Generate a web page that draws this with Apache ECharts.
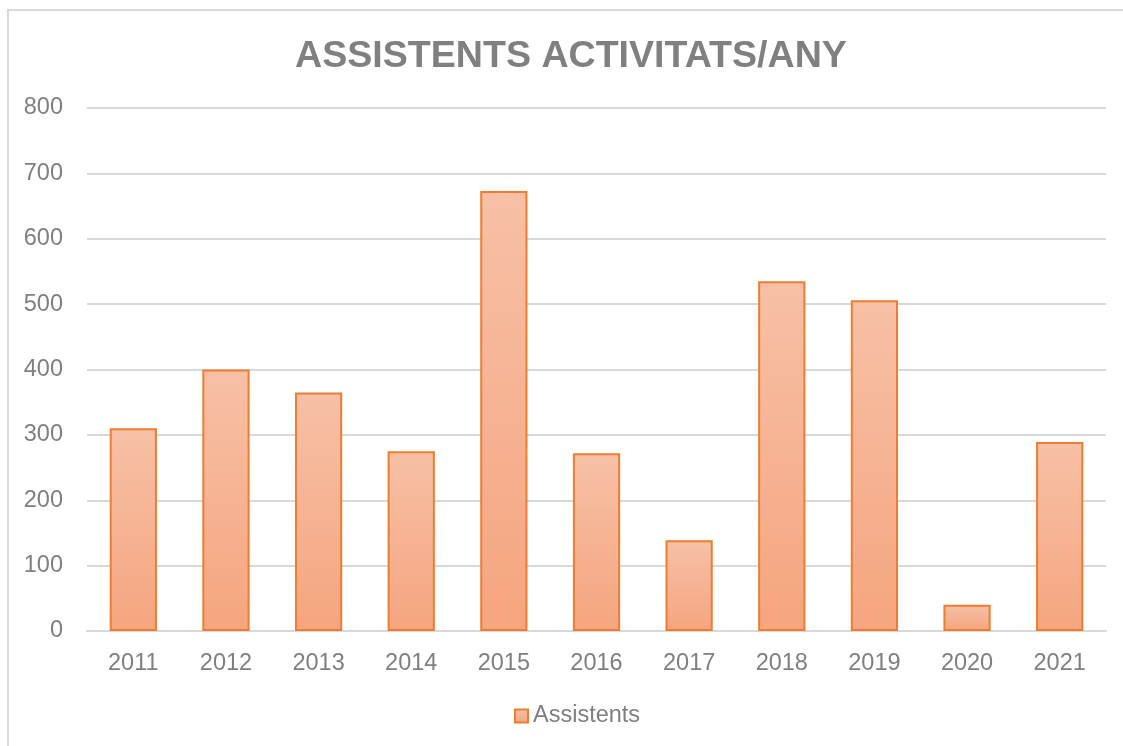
<!DOCTYPE html>
<html>
<head>
<meta charset="utf-8">
<script src="https://cdn.jsdelivr.net/npm/echarts@6/dist/echarts.min.js"></script>
<style>
  html, body { margin: 0; padding: 0; background: #fff; overflow: hidden; }
  #chart { position: absolute; left: 0; top: 0; width: 1123px; height: 746px; }
  /* marc gris del requadre del gràfic */
  .marc { position: absolute; left: 7px; top: 9px; width: 1200px; height: 800px;
          border-left: 2px solid #d9d9d9; border-top: 2px solid #d9d9d9; pointer-events: none; }
</style>
</head>
<body>
<div id="chart"></div>
<div class="marc"></div>
<script>
// dades llegides del gràfic
var anys = ['2011', '2012', '2013', '2014', '2015', '2016', '2017', '2018', '2019', '2020', '2021'];
var assistents = [310, 400, 365, 275, 673, 272, 139, 535, 506, 40, 289];
var titol = 'ASSISTENTS ACTIVITATS/ANY';
var nomSerie = 'Assistents';

var myChart = echarts.init(document.getElementById('chart'));

var degradat = new echarts.graphic.LinearGradient(0, 0, 0, 1, [
  { offset: 0, color: '#f7c0a6' },
  { offset: 1, color: '#f5a57f' }
]);

var lletra = 'Liberation Sans, Arial, sans-serif';

myChart.setOption({
  animation: false,
  title: {
    text: titol,
    left: 290,
    top: 33,
    textStyle: {
      fontFamily: lletra,
      fontSize: 37.6,
      fontWeight: 'bold',
      color: '#808080'
    }
  },
  legend: {
    bottom: 13,
    left: 509,
    itemWidth: 13,
    itemHeight: 13,
    itemGap: 6,
    icon: 'rect',
    textStyle: {
      fontFamily: lletra,
      fontSize: 23.5,
      color: '#7f7f7f'
    },
    data: [nomSerie]
  },
  grid: {
    left: 87,
    right: 17,
    top: 108,
    bottom: 115,
    containLabel: false
  },
  xAxis: {
    type: 'category',
    data: anys,
    axisTick: { show: false },
    axisLine: { lineStyle: { color: '#d9d9d9', width: 2 } },
    axisLabel: {
      margin: 21,
      fontFamily: lletra,
      fontSize: 23.5,
      color: '#7f7f7f'
    }
  },
  yAxis: {
    type: 'value',
    min: 0,
    max: 800,
    interval: 100,
    axisLine: { show: false },
    axisTick: { show: false },
    splitLine: { lineStyle: { color: '#d9d9d9', width: 2 } },
    axisLabel: {
      margin: 24,
      fontFamily: lletra,
      fontSize: 23.5,
      color: '#7f7f7f'
    }
  },
  series: [
    {
      name: nomSerie,
      type: 'bar',
      data: assistents,
      barWidth: '51%',
      itemStyle: {
        color: degradat,
        borderColor: '#ed7d31',
        borderWidth: 2
      }
    }
  ]
});
</script>
</body>
</html>
